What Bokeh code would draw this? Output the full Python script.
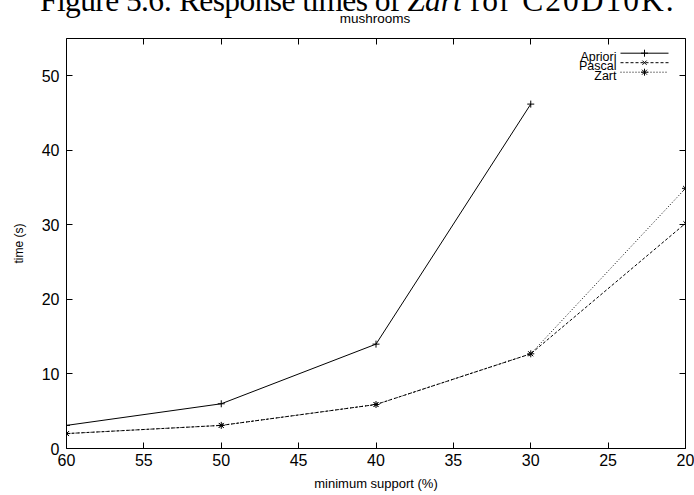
from bokeh.plotting import figure
from bokeh.layouts import column
from bokeh.models import (Range1d, LinearAxis, FixedTicker, Label, Div,
                          CustomJSTickFormatter)
from bokeh.embed import file_html
from bokeh.resources import INLINE

# Response times on the mushrooms dataset
support = [60, 50, 40, 30, 20]
apriori_support = [60, 50, 40, 30]
apriori_time = [3.1, 6.0, 14.0, 46.2]
pascal_time = [2.0, 3.1, 5.9, 12.7, 30.2]
zart_time = [2.0, 3.1, 5.9, 12.7, 34.9]

x_ticks = [60, 55, 50, 45, 40, 35, 30, 25, 20]
y_ticks = [0, 10, 20, 30, 40, 50]

SANS = "Liberation Sans"
SERIF = "Liberation Serif"
W = 694
HEAD_H = 30
MAIN_H = 495 - HEAD_H
B_LEFT, B_RIGHT, B_TOP, B_BOTTOM = 66, 9, 8, 47

# ---- heading: document caption (running off the page top) and plot title ----
heading_html = (
    '<div style="position:relative; width:694px; height:30px;">'
    '<div style="position:absolute; left:40px; top:-15.6px; white-space:nowrap; '
    "font-family:'Liberation Serif'; font-size:31.5px; line-height:33px; color:black;\">"
    '<span style="letter-spacing:-0.6px;">Figure 5.6: Response times of</span> '
    '<i>Zart</i> '
    '<span style="letter-spacing:2px;">for C20D10K.</span></div>'
    '<div style="position:absolute; left:0px; width:750px; top:11.6px; text-align:center; '
    "white-space:nowrap; font-family:'Liberation Sans'; font-size:13.5px; "
    'line-height:13.5px; color:black;">mushrooms</div>'
    '</div>'
)
head = Div(text=heading_html, width=W, height=HEAD_H, margin=0)

# ---- main plot ----
p = figure(width=W, height=MAIN_H, output_backend="svg", toolbar_location=None,
           x_range=Range1d(60, 20), y_range=Range1d(0, 55),
           min_border_left=B_LEFT, min_border_right=B_RIGHT,
           min_border_top=B_TOP, min_border_bottom=B_BOTTOM,
           x_axis_location=None, y_axis_location=None, margin=0)
p.grid.visible = False
p.outline_line_color = "black"
p.outline_line_width = 1
p.background_fill_color = "white"
p.border_fill_color = "white"

blank = CustomJSTickFormatter(code="return ''")


def style_axis(ax, ticks, show_labels):
    ax.ticker = FixedTicker(ticks=ticks)
    ax.axis_line_color = None
    ax.major_tick_in = 6
    ax.major_tick_out = 0
    ax.minor_tick_in = 0
    ax.minor_tick_out = 0
    ax.major_tick_line_color = "black"
    ax.major_tick_line_width = 1
    if show_labels:
        ax.major_label_text_font = SANS
        ax.major_label_text_font_size = "16px"
        ax.major_label_text_color = "black"
        ax.axis_label_text_font = SANS
        ax.axis_label_text_font_style = "normal"
        ax.axis_label_text_color = "black"
    else:
        ax.formatter = blank
        ax.major_label_text_font_size = "1px"
        ax.major_label_standoff = 0


xb = LinearAxis(axis_label="minimum support (%)")
style_axis(xb, x_ticks, True)
xb.axis_label_text_font_size = "13px"
xb.major_label_standoff = 5
xb.axis_label_standoff = 7
p.add_layout(xb, "below")

yl = LinearAxis(axis_label="time (s)")
style_axis(yl, y_ticks, True)
yl.axis_label_text_font_size = "12px"
yl.major_label_standoff = 7
yl.axis_label_standoff = 13
p.add_layout(yl, "left")

xt = LinearAxis()
style_axis(xt, x_ticks, False)
p.add_layout(xt, "above")

yr = LinearAxis()
style_axis(yr, y_ticks, False)
p.add_layout(yr, "right")

# series
p.line(apriori_support, apriori_time, line_color="black", line_width=1)
p.scatter(apriori_support, apriori_time, marker="cross", size=7, line_color="black", line_width=1)
p.line(support, pascal_time, line_color="black", line_width=1, line_dash="3 2")
p.scatter(support, pascal_time, marker="x", size=6, line_color="black", line_width=1)
p.line(support, zart_time, line_color="black", line_width=1, line_dash="1 2")
p.scatter(support, zart_time, marker="asterisk", size=7, line_color="black", line_width=1)

# ---- key (text on the left, line sample on the right), laid out in frame pixels ----
frame_w = W - B_LEFT - B_RIGHT
frame_h = MAIN_H - B_TOP - B_BOTTOM


def px_to_x(px):
    return 60 + (20 - 60) * px / frame_w


def py_to_y(py):
    return 55 * (frame_h - py) / frame_h


key_names = ["Apriori", "Pascal", "Zart"]
key_markers = ["cross", "x", "asterisk"]
key_sizes = [7, 6, 7]
key_dashes = ["solid", "3 2", "1 2"]
key_row_py = [14.7, 24.2, 33.7]      # row centre, pixels below the frame top
key_x0, key_x1, key_text_right = 554, 602, 550

for name, mk, sz, dash, ry in zip(key_names, key_markers, key_sizes, key_dashes, key_row_py):
    yv = py_to_y(ry)
    p.line([px_to_x(key_x0), px_to_x(key_x1)], [yv, yv], line_color="black",
           line_width=1, line_dash=dash)
    p.scatter([px_to_x((key_x0 + key_x1) / 2)], [yv], marker=mk, size=sz,
              line_color="black", line_width=1)
    p.add_layout(Label(x=key_text_right, y=frame_h - ry - 3.4, x_units="screen",
                       y_units="screen", text=name, text_font=SANS,
                       text_font_size="12.5px", text_align="right",
                       text_baseline="alphabetic", text_color="black"))

page = column(head, p, spacing=0, margin=0)
open("out.html", "w").write(file_html(page, INLINE))
